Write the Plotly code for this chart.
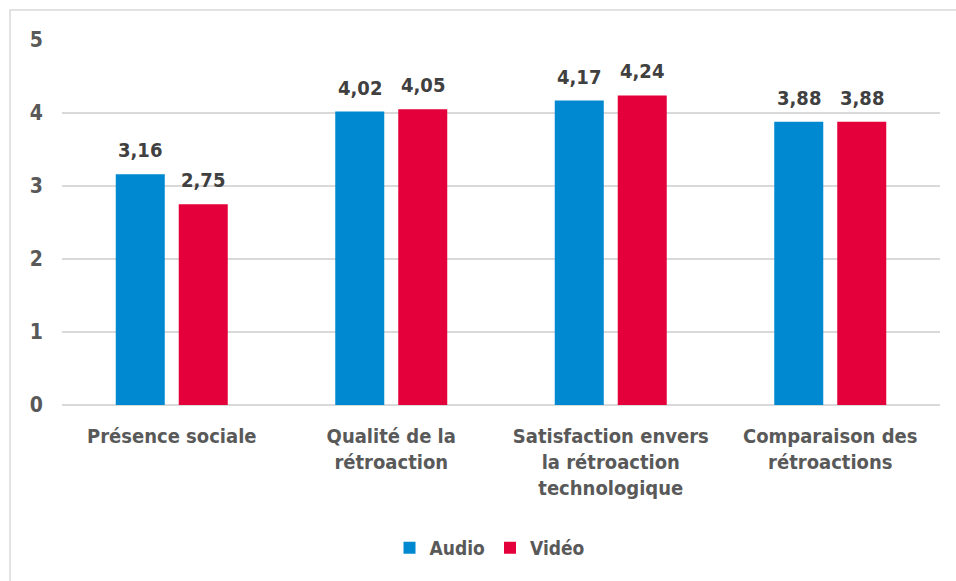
import plotly.graph_objects as go

categories = ["Présence sociale", "Qualité de la<br>rétroaction",
              "Satisfaction envers<br>la rétroaction<br>technologique",
              "Comparaison des<br>rétroactions"]
audio = [3.16, 4.02, 4.17, 3.88]
video = [2.75, 4.05, 4.24, 3.88]
y_ticks = [0, 1, 2, 3, 4, 5]

FONT = "DejaVu Sans Condensed, DejaVu Sans, sans-serif"
W, H = 956, 581
L, R, T, B = 62, 16, 40, 176
pw, ph = W - L - R, H - T - B
SLOT = 63  # pixel width of one bar slot inside a group

fig = go.Figure()
series = [("Audio", audio, "#0088d1", -SLOT / 2), ("Vidéo", video, "#e4003b", SLOT / 2)]
for name, vals, col, _ in series:
    fig.add_trace(go.Bar(name=name, x=categories, y=vals, marker_color=col,
                         marker_line_width=0))

# value labels above each bar
annotations = []
for name, vals, col, dx in series:
    for c, v in zip(categories, vals):
        annotations.append(dict(
            x=c, y=v, xref="x", yref="y", text=f"{v:.2f}".replace(".", ","),
            showarrow=False, xshift=dx, yshift=10, yanchor="bottom",
            font=dict(family=FONT, size=20, color="#404040", weight="bold")))

fig.update_layout(
    width=W, height=H, margin=dict(l=L, r=R, t=T, b=B),
    paper_bgcolor="white", plot_bgcolor="white",
    barmode="group", bargap=0.426, bargroupgap=0.222,
    font=dict(family=FONT, color="#595959", weight="bold"),
    showlegend=True,
    legend=dict(orientation="h", x=(490 - L) / pw, xanchor="center",
                y=(T + ph - 548) / ph, yanchor="middle",
                font=dict(family=FONT, size=19, color="#595959", weight="bold"),
                itemwidth=30, traceorder="normal"),
    xaxis=dict(tickfont=dict(family=FONT, size=20, color="#595959", weight="bold"),
               showgrid=False, ticks="", ticklabelstandoff=17),
    yaxis=dict(range=[0, 5], tickvals=y_ticks, showgrid=True, gridcolor="#d9d9d9",
               gridwidth=1.5, zeroline=True, zerolinecolor="#d9d9d9", zerolinewidth=1.5,
               tickfont=dict(family=FONT, size=21, color="#595959", weight="bold"),
               ticks="", ticklabelstandoff=18),
    annotations=annotations,
    shapes=[dict(type="rect", xref="paper", yref="paper",
                 x0=(10 - L) / pw, x1=(958 - L) / pw,
                 y0=(T + ph - 590) / ph, y1=(T + ph - 10) / ph,
                 line=dict(color="#d9d9d9", width=1.5), fillcolor="rgba(0,0,0,0)",
                 layer="below")],
)

fig.write_html("out.html")
